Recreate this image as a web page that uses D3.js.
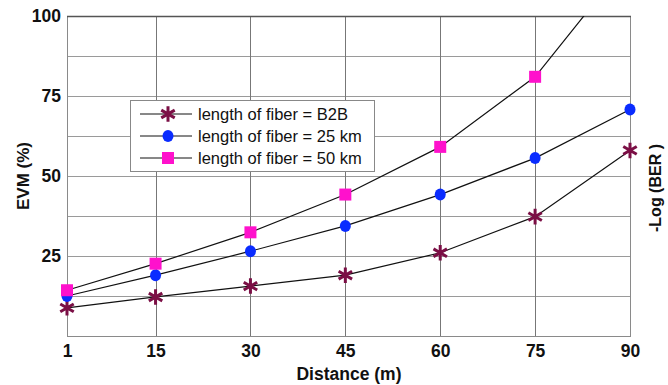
<!DOCTYPE html>
<html>
<head>
<meta charset="utf-8">
<script src="https://cdn.jsdelivr.net/npm/d3@7"></script>
<style>
  body { margin: 0; background: #fff; }
  svg { font-family: "Liberation Sans", Arial, sans-serif; }
</style>
</head>
<body>
<svg id="chart" width="668" height="385"></svg>
<script>
const distances = [1, 15, 30, 45, 60, 75, 90];
const evmB2B = [8.8, 12.2, 15.6, 19.0, 26.0, 37.3, 58.0];
const evm25km = [12.5, 19.0, 26.5, 34.4, 44.2, 55.6, 70.8];
const evm50km = [14.3, 22.6, 32.4, 44.2, 59.1, 81.0, 118];
const xTicks = [1, 15, 30, 45, 60, 75, 90];
const yTicks = [25, 50, 75, 100];
const yGrid = [12.5, 25, 37.5, 50, 62.5, 75, 87.5];

const series = [
    {name: "length of fiber = B2B", values: evmB2B, symbol: "star", color: "#7b0f45"},
    {name: "length of fiber = 25 km", values: evm25km, symbol: "circle", color: "#0a2cff"},
    {name: "length of fiber = 50 km", values: evm50km, symbol: "square", color: "#ff11cc"}
];

const svg = d3.select("#chart");
const plotLeft = 67, plotRight = 630, plotTop = 16, plotBottom = 336;

const x = d3.scaleLinear().domain([1, 90]).range([plotLeft, plotRight]);
const y = d3.scaleLinear().domain([0, 100]).range([plotBottom, plotTop]);

svg.append("defs").append("clipPath").attr("id", "plotclip")
    .append("rect")
    .attr("x", plotLeft - 10).attr("y", plotTop)
    .attr("width", plotRight - plotLeft + 20).attr("height", plotBottom - plotTop + 10);

// grid
const grid = svg.append("g").attr("stroke", "#9a9a9a").attr("stroke-width", 1);
grid.selectAll("line.h").data(yGrid).enter().append("line")
    .attr("x1", plotLeft).attr("x2", plotRight)
    .attr("y1", d => Math.round(y(d)) + 0.5).attr("y2", d => Math.round(y(d)) + 0.5);
grid.selectAll("line.v").data(xTicks.slice(1, -1)).enter().append("line")
    .attr("y1", plotTop).attr("y2", plotBottom)
    .attr("stroke", "#777")
    .attr("x1", d => Math.round(x(d)) + 0.5).attr("x2", d => Math.round(x(d)) + 0.5);

// frame
svg.append("rect")
    .attr("x", plotLeft + 0.5).attr("y", plotTop + 0.5)
    .attr("width", plotRight - plotLeft).attr("height", plotBottom - plotTop)
    .attr("fill", "none").attr("stroke", "#8a8a8a");
svg.append("line")
    .attr("x1", plotLeft).attr("x2", plotRight + 1)
    .attr("y1", plotTop + 0.5).attr("y2", plotTop + 0.5)
    .attr("stroke", "#555").attr("stroke-width", 1.5);

// axes
const xAxis = svg.append("g")
    .attr("transform", `translate(0,${plotBottom})`)
    .call(d3.axisBottom(x).tickValues(xTicks).tickSize(0).tickPadding(9));
const yAxis = svg.append("g")
    .attr("transform", `translate(${plotLeft},0)`)
    .call(d3.axisLeft(y).tickValues(yTicks).tickSize(0).tickPadding(6));
[xAxis, yAxis].forEach(a => {
    a.select(".domain").remove();
    a.selectAll("text")
        .attr("font-family", "Liberation Sans, Arial, sans-serif")
        .attr("font-size", 17.5).attr("font-weight", "bold").attr("fill", "#111");
});

svg.append("text")
    .attr("x", 349).attr("y", 380)
    .attr("text-anchor", "middle")
    .attr("font-size", 17.5).attr("font-weight", "bold").attr("fill", "#111")
    .text("Distance (m)");
svg.append("text")
    .attr("transform", `translate(29,${(plotTop + plotBottom) / 2}) rotate(-90)`)
    .attr("text-anchor", "middle")
    .attr("font-size", 17).attr("font-weight", "bold").attr("fill", "#111")
    .text("EVM (%)");
svg.append("text")
    .attr("transform", `translate(661,188) rotate(-90)`)
    .attr("text-anchor", "middle")
    .attr("font-size", 16).attr("font-weight", "bold").attr("fill", "#111")
    .text("-Log (BER )");

function drawMarker(g, s) {
    if (s.symbol === "star") {
        g.append("path")
            .attr("d", d3.symbol(d3.symbolAsterisk, 170)())
            .attr("fill", "none").attr("stroke", s.color).attr("stroke-width", 3);
    } else if (s.symbol === "circle") {
        g.append("ellipse").attr("rx", 5.5).attr("ry", 6).attr("fill", s.color);
    } else {
        g.append("rect").attr("x", -6).attr("y", -6)
            .attr("width", 12).attr("height", 12).attr("fill", s.color);
    }
}

const line = d3.line().x((d, i) => x(distances[i])).y(d => y(d));
const plot = svg.append("g").attr("clip-path", "url(#plotclip)");

series.forEach(s => {
    plot.append("path")
        .datum(s.values)
        .attr("fill", "none").attr("stroke", "#111").attr("stroke-width", 1.2)
        .attr("d", line);
});
series.forEach(s => {
    s.values.forEach((v, i) => {
        if (v > 100) return;
        const g = plot.append("g").attr("transform", `translate(${x(distances[i])},${y(v)})`);
        drawMarker(g, s);
    });
});

// legend
const legend = svg.append("g").attr("transform", "translate(130,100)");
legend.append("rect")
    .attr("x", 0.5).attr("y", 0.5).attr("width", 244).attr("height", 71)
    .attr("fill", "#fff").attr("stroke", "#888");
series.forEach((s, i) => {
    const row = legend.append("g").attr("transform", `translate(0,${14 + i * 22})`);
    row.append("line").attr("x1", 10).attr("x2", 62).attr("y1", 0).attr("y2", 0)
        .attr("stroke", "#111").attr("stroke-width", 1);
    drawMarker(row.append("g").attr("transform", "translate(38,0)"), s);
    row.append("text").attr("x", 68).attr("y", 6)
        .attr("font-size", 16.5).attr("fill", "#111")
        .text(s.name);
});
</script>
</body>
</html>
